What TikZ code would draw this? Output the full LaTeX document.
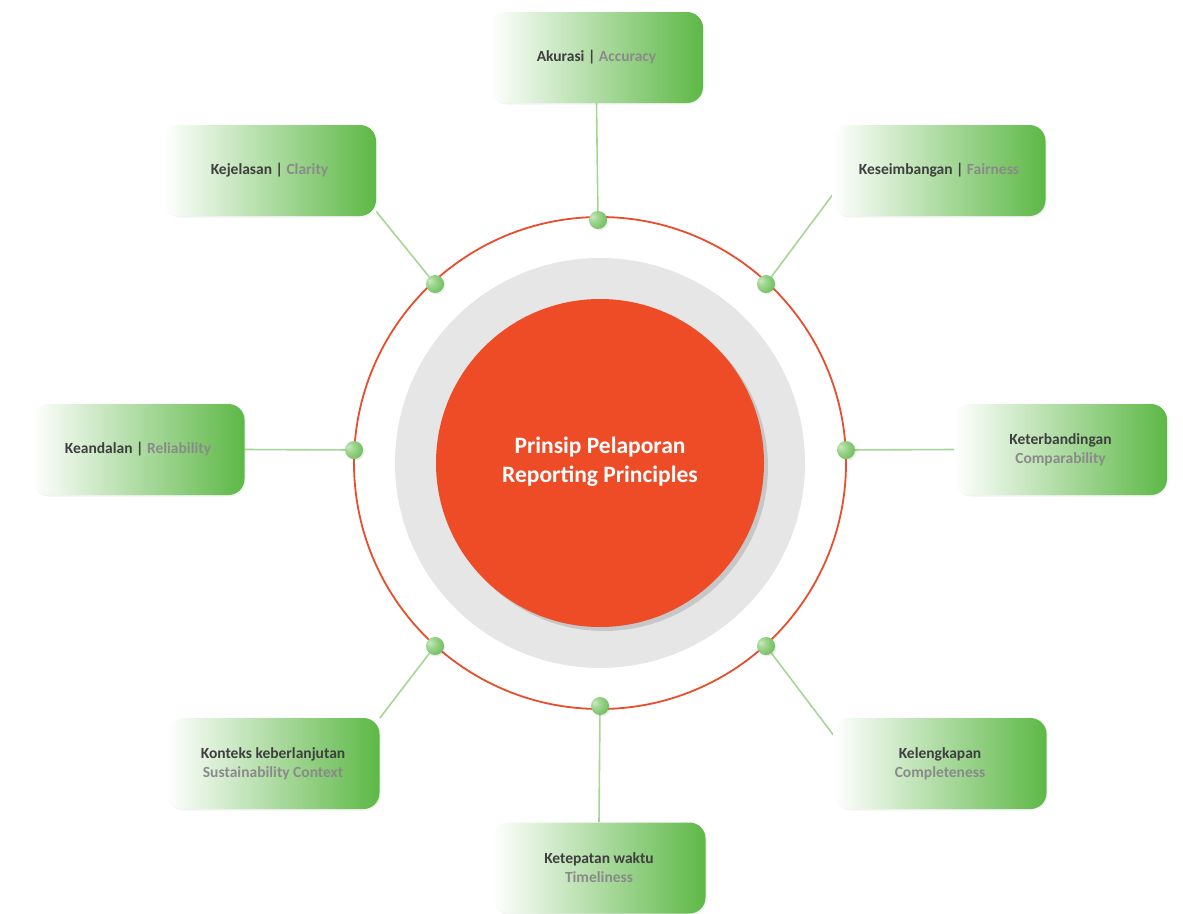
\documentclass[tikz,border=0pt]{standalone}
\usepackage{fontspec}
\setmainfont{Carlito}
\usetikzlibrary{shadows,backgrounds}
\definecolor{boxgreen}{HTML}{5DB846}
\definecolor{ringred}{HTML}{E84E2C}
\definecolor{discred}{HTML}{EE4B27}
\definecolor{discgray}{HTML}{E6E6E6}
\definecolor{txtdark}{HTML}{3F3F3F}
\definecolor{txtlight}{HTML}{8A8A8A}
\definecolor{linegreen}{HTML}{A5D696}
\definecolor{dotgreen}{HTML}{66BA52}
\definecolor{dotlight}{HTML}{CBEAC0}
\pgfdeclareradialshading{dotball}{\pgfpoint{-16bp}{10bp}}{color(0bp)=(dotlight); color(12bp)=(dotlight!60!dotgreen); color(38bp)=(dotgreen); color(70bp)=(dotgreen)}
\tikzset{
  principle/.style={rectangle, rounded corners=16pt, minimum width=213pt, minimum height=91pt,
    left color=white, right color=boxgreen, align=center,
    font=\bfseries\fontsize{15.5}{19}\selectfont, text=txtdark,
    drop shadow={opacity=0.10, shadow xshift=1.5pt, shadow yshift=-1.5pt}},
  junction/.style={circle, minimum size=18pt, inner sep=0pt, shading=dotball,
    drop shadow={opacity=0.15, shadow xshift=1.5pt, shadow yshift=-1.5pt}},
  link/.style={draw=linegreen, line width=1.6pt},
}
\begin{document}
\begin{tikzpicture}[x=1pt,y=-1pt]
\useasboundingbox (0,0) rectangle (1183,913);
% central discs
\fill[discgray] (600,463) circle[radius=205];
\node[circle, minimum size=328pt, inner sep=0pt, fill=discred,
      drop shadow={opacity=0.3, shadow xshift=4pt, shadow yshift=-4pt}] (core) at (600,463) {};
\node[text=white, font=\bfseries\fontsize{23.5}{29}\selectfont, align=center] (coretext) at (600,462)
  {Prinsip Pelaporan\\Reporting Principles};
\draw[ringred, line width=1.8pt] (600,463) circle[radius=246];
% principle boxes
\node[principle] (akc) at (596.5,57.5) {Akurasi | {\color{txtlight}Accuracy}};
\node[principle] (kej) at (269.5,170.5) {Kejelasan | {\color{txtlight}Clarity}};
\node[principle] (kes) at (939,170.5) {Keseimbangan | {\color{txtlight}Fairness}};
\node[principle] (kea) at (138,449.5) {Keandalan | {\color{txtlight}Reliability}};
\node[principle] (ket) at (1060.5,449.5) {Keterbandingan\\{\color{txtlight}Comparability}};
\node[principle] (kon) at (273,763.5) {Konteks keberlanjutan\\{\color{txtlight}Sustainability Context}};
\node[principle] (kel) at (940,763.5) {Kelengkapan\\{\color{txtlight}Completeness}};
\node[principle] (kep) at (599,868) {Ketepatan waktu\\{\color{txtlight}Timeliness}};
% junction dots
\node[junction] (d1) at (598,220) {};
\node[junction] (d2) at (766,284) {};
\node[junction] (d3) at (846,450) {};
\node[junction] (d4) at (766,646) {};
\node[junction] (d5) at (600,706) {};
\node[junction] (d6) at (435,646) {};
\node[junction] (d7) at (354,450) {};
\node[junction] (d8) at (435,284) {};
% connectors
\begin{scope}[on background layer]
\draw[link] (akc.south) -- (d1);
\draw[link] (kes.193) -- (d2);
\draw[link] (ket.west) -- (d3);
\draw[link] (kel.165) -- (d4);
\draw[link] (kep.north) -- (d5);
\draw[link] (kon.23) -- (d6);
\draw[link] (kea.east) -- (d7);
\draw[link] (kej.-21) -- (d8);
\end{scope}
\end{tikzpicture}
\end{document}
